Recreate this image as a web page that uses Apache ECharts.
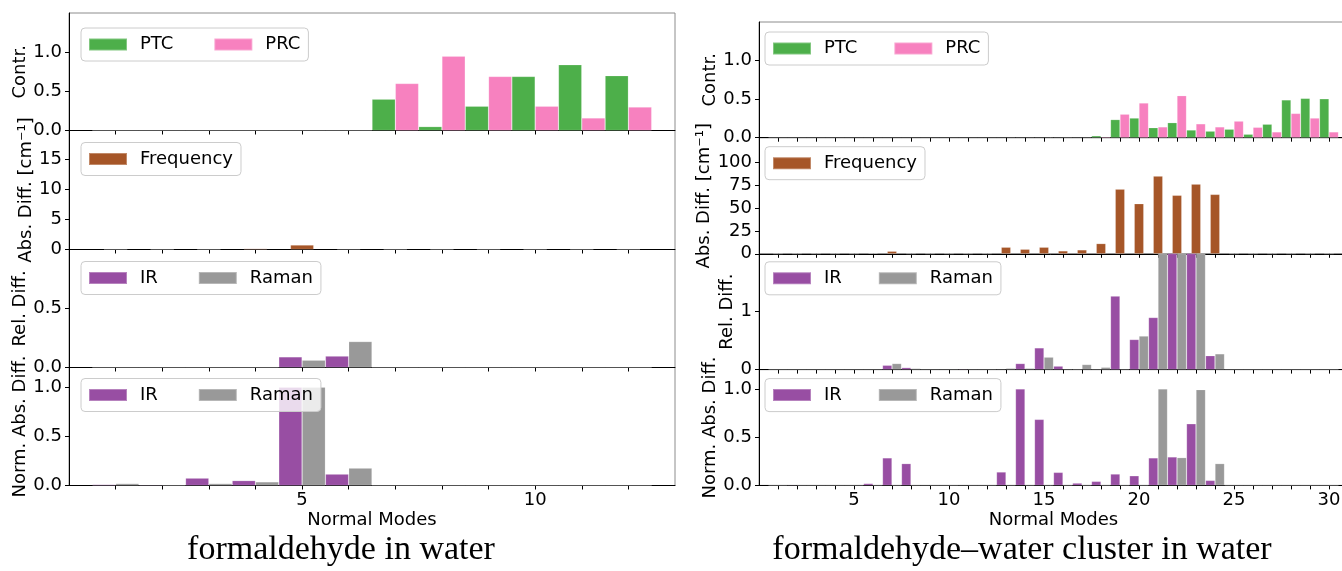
<!DOCTYPE html>
<html>
<head>
    <meta charset="utf-8">
    <style>
        body { margin: 0; background-color: #fff; }
        #main { width: 1342px; height: 571px; }
    </style>
    <script src="https://cdn.jsdelivr.net/npm/echarts@6/dist/echarts.min.js"></script>
</head>
<body>
    <div id="main"></div>
    <script type="text/javascript">
        // formaldehyde in water (12 normal modes)
        var modesL = [1, 2, 3, 4, 5, 6, 7, 8, 9, 10, 11, 12];
        var ptcL = [0, 0, 0, 0, 0, 0, 0.40, 0.05, 0.31, 0.69, 0.84, 0.70];
        var prcL = [0, 0, 0, 0, 0, 0, 0.60, 0.95, 0.69, 0.31, 0.16, 0.30];
        var freqL = [0, 0, 0, 0.15, 0.75, 0.05, 0, 0, 0, 0, 0, 0];
        var irRelL = [0, 0, 0, 0, 0.09, 0.097, 0, 0, 0, 0, 0, 0];
        var ramanRelL = [0, 0, 0, 0, 0.062, 0.22, 0, 0, 0, 0, 0, 0];
        var irNormL = [0.01, 0.007, 0.075, 0.05, 1.0, 0.116, 0, 0, 0, 0, 0, 0];
        var ramanNormL = [0.02, 0, 0.02, 0.037, 1.0, 0.177, 0, 0, 0, 0, 0, 0];

        // formaldehyde-water cluster in water (30 normal modes)
        var modesR = [1, 2, 3, 4, 5, 6, 7, 8, 9, 10, 11, 12, 13, 14, 15,
            16, 17, 18, 19, 20, 21, 22, 23, 24, 25, 26, 27, 28, 29, 30];
        var ptcR = [0, 0, 0, 0, 0, 0, 0, 0, 0, 0, 0, 0, 0, 0, 0,
            0, 0, 0.025, 0.235, 0.255, 0.13, 0.195, 0.10, 0.085, 0.11, 0.045, 0.175, 0.49, 0.51, 0.505];
        var prcR = [0, 0, 0, 0, 0, 0, 0, 0, 0, 0, 0, 0, 0.008, 0.008, 0.008,
            0.004, 0.008, 0.012, 0.305, 0.45, 0.14, 0.545, 0.18, 0.14, 0.215, 0.135, 0.075, 0.315, 0.255, 0.075];
        var freqR = [0, 0, 0, 0, 0, 0.6, 2.8, 0, 0, 0, 0, 0, 7.2, 5.0, 7.2,
            3.2, 4.3, 11.2, 70.7, 54.8, 85, 64, 76.2, 65, 0, 0, 0, 0, 0, 0];
        var irRelR = [0, 0, 0, 0, 0, 0, 0.075, 0.035, 0, 0, 0.012, 0, 0.01, 0.105, 0.375,
            0.06, 0.003, 0, 1.27, 0.52, 0.90, 3.2, 2.7, 0.24, 0, 0, 0, 0, 0, 0];
        var ramanRelR = [0, 0, 0, 0, 0, 0, 0.105, 0.02, 0, 0, 0, 0, 0.023, 0.023, 0.215,
            0.012, 0.088, 0.04, 0.012, 0.58, 4.5, 2.9, 3.6, 0.272, 0, 0, 0, 0, 0, 0];
        var irNormR = [0, 0.007, 0, 0, 0, 0.02, 0.285, 0.226, 0.003, 0, 0.004, 0, 0.139, 1.0, 0.684,
            0.135, 0.024, 0.042, 0.118, 0.10, 0.285, 0.295, 0.639, 0.052, 0, 0, 0, 0, 0, 0];
        var ramanNormR = [0, 0, 0, 0, 0, 0, 0, 0, 0, 0, 0, 0, 0, 0, 0,
            0, 0, 0, 0, 0, 1.0, 0.288, 0.993, 0.226, 0, 0, 0, 0, 0, 0];

        var xLabelsL = [5, 10];
        var xLabelsR = [5, 10, 15, 20, 25, 30];

        var FONT = 'DejaVu Sans';
        var COLORS = { PTC: '#4daf4a', PRC: '#f781bf', Frequency: '#a65628', IR: '#984ea3', Raman: '#999999' };

        var myChart = echarts.init(document.getElementById('main'));

        // panel geometry
        var panels = [
            {
                left: 69, width: 606, xmax: 13, tops: [13, 130.5, 249.5, 367.5, 485.5],
                modes: modesL, xlabels: xLabelsL,
                legendLeft: 12, legendTop: [15, 12, 12, 11], legendGap: 40
            },
            {
                left: 759, width: 589, xmax: 31, tops: [22, 137.7, 253.8, 369.6, 485.4],
                modes: modesR, xlabels: xLabelsR,
                legendLeft: 6, legendTop: [10, 9, 8, 9], legendGap: 36
            }
        ];

        // y axes per panel (top to bottom)
        var yDefs = [
            [
                { name: 'Contr.', max: 1.5, labels: [0, 0.5, 1.0], dec: 1, gap: 33 },
                { name: 'Abs. Diff. [cm⁻¹]', max: 19.8, labels: [0, 5, 10, 15], dec: 0, gap: 26 },
                { name: 'Rel. Diff.', max: 1.0, labels: [0, 0.5], dec: 1, gap: 33 },
                { name: 'Norm. Abs. Diff.', max: 1.2, labels: [0, 0.5, 1.0], dec: 1, gap: 33 }
            ],
            [
                { name: 'Contr.', max: 1.5, labels: [0, 0.5, 1.0], dec: 1, gap: 33 },
                { name: 'Abs. Diff. [cm⁻¹]', max: 127, labels: [0, 25, 50, 75, 100], dec: 0, gap: 41 },
                { name: 'Rel. Diff.', max: 2.0, labels: [0, 1], dec: 0, gap: 21 },
                { name: 'Norm. Abs. Diff.', max: 1.2, labels: [0, 0.5, 1.0], dec: 1, gap: 33 }
            ]
        ];

        var seriesDefs = [
            [
                [['PTC', ptcL], ['PRC', prcL]],
                [['Frequency', freqL]],
                [['IR', irRelL], ['Raman', ramanRelL]],
                [['IR', irNormL], ['Raman', ramanNormL]]
            ],
            [
                [['PTC', ptcR], ['PRC', prcR]],
                [['Frequency', freqR]],
                [['IR', irRelR], ['Raman', ramanRelR]],
                [['IR', irNormR], ['Raman', ramanNormR]]
            ]
        ];

        var grids = [], xAxes = [], yAxes = [], series = [], legends = [];

        panels.forEach(function (p, pi) {
            var unit = p.width / p.xmax;
            for (var k = 0; k < 4; k++) {
                var gi = pi * 4 + k;
                var last = k === 3;
                grids.push({
                    left: p.left, top: p.tops[k], width: p.width, height: p.tops[k + 1] - p.tops[k],
                    show: true, borderColor: '#8c8c8c', borderWidth: 1, backgroundColor: 'transparent',
                    outerBoundsMode: 'none', containLabel: false
                });
                xAxes.push({
                    type: 'value', gridIndex: gi, min: 0, max: p.xmax, interval: 1,
                    axisLine: { show: true, onZero: false, lineStyle: { color: '#000', width: 1 } },
                    axisTick: { show: true, length: 4, customValues: p.modes, lineStyle: { color: '#000' } },
                    axisLabel: {
                        show: last, customValues: p.xlabels, margin: 6,
                        fontFamily: FONT, fontSize: 18, color: '#000'
                    },
                    splitLine: { show: false },
                    name: last ? 'Normal Modes' : '', nameLocation: 'middle', nameGap: 26,
                    nameTextStyle: { fontFamily: FONT, fontSize: 18, color: '#000' }
                });
                var yd = yDefs[pi][k];
                yAxes.push({
                    type: 'value', gridIndex: gi, min: 0, max: yd.max,
                    axisLine: { show: true, lineStyle: { color: '#000', width: 1 } },
                    axisTick: { show: true, length: 4, customValues: yd.labels, lineStyle: { color: '#000' } },
                    axisLabel: {
                        customValues: yd.labels, margin: 7,
                        fontFamily: FONT, fontSize: 18, color: '#000',
                        formatter: (function (dec) {
                            return function (v) { return v.toFixed(dec); };
                        })(yd.dec)
                    },
                    splitLine: { show: false },
                    name: yd.name, nameLocation: 'middle', nameRotate: 90, nameGap: yd.gap,
                    nameTextStyle: { fontFamily: FONT, fontSize: 18, color: '#000' }
                });

                var defs = seriesDefs[pi][k];
                var names = [];
                defs.forEach(function (d) {
                    names.push(d[0]);
                    series.push({
                        type: 'bar', name: d[0], xAxisIndex: gi, yAxisIndex: gi,
                        data: p.modes.map(function (m, i) { return [m, d[1][i]]; }),
                        barWidth: unit * 0.5, barGap: '0%', clip: true,
                        itemStyle: { color: COLORS[d[0]], borderColor: 'rgba(255,255,255,0.3)', borderWidth: 0.6 },
                        animation: false
                    });
                });
                legends.push({
                    data: names, left: p.left + p.legendLeft, top: p.tops[k] + p.legendTop[k],
                    orient: 'horizontal', icon: 'rect', itemWidth: 38, itemHeight: 12, itemGap: p.legendGap,
                    selectedMode: false,
                    backgroundColor: 'rgba(255,255,255,0.8)', borderColor: '#cccccc', borderWidth: 1,
                    borderRadius: 4, padding: [6, 8, 6, 7],
                    textStyle: { fontFamily: FONT, fontSize: 18, color: '#000', lineHeight: 21, padding: [0, 0, 0, 8] }
                });
            }
        });

        var titleStyle = { fontFamily: 'Liberation Serif', fontSize: 34, fontWeight: 'normal', color: '#000' };

        var option = {
            backgroundColor: '#fff',
            animation: false,
            title: [
                { text: 'formaldehyde in water', left: 341, top: 533, textAlign: 'center', padding: 0, textStyle: titleStyle },
                { text: 'formaldehyde–water cluster in water', left: 1022, top: 533, textAlign: 'center', padding: 0, textStyle: titleStyle }
            ],
            grid: grids,
            xAxis: xAxes,
            yAxis: yAxes,
            legend: legends,
            series: series
        };

        myChart.setOption(option);
    </script>
</body>
</html>
